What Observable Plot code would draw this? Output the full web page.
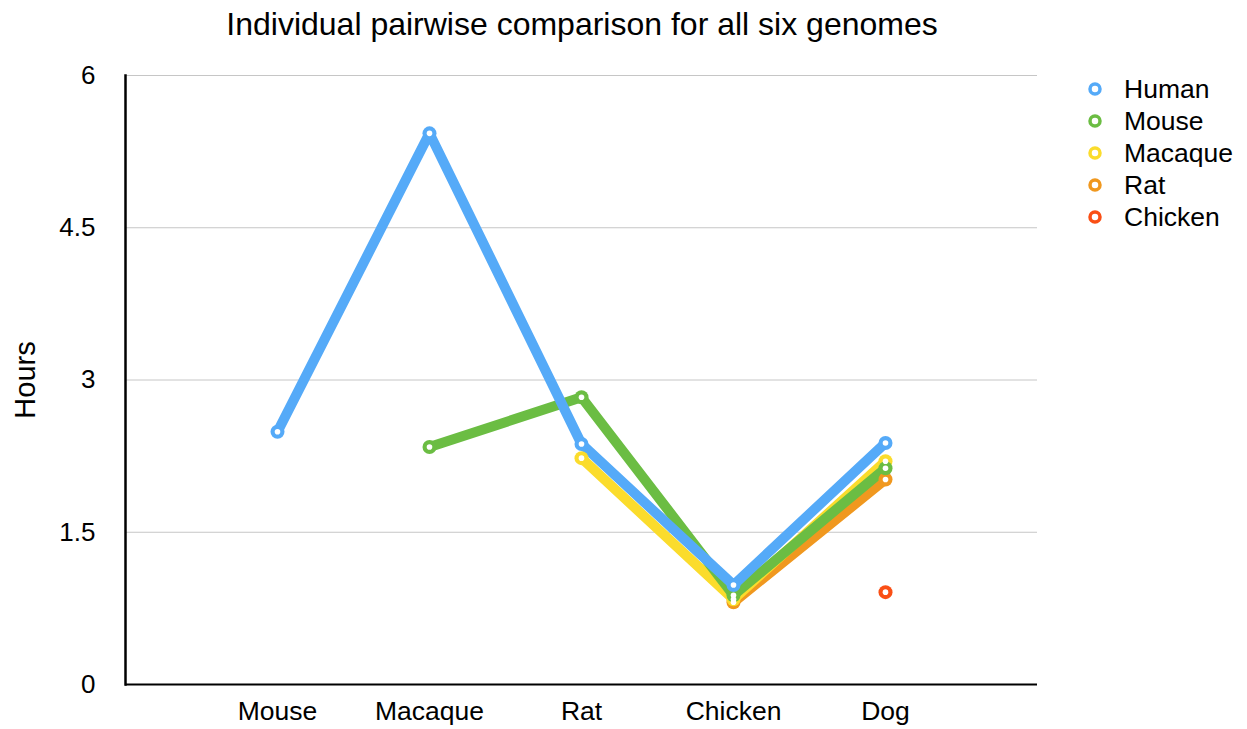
<!DOCTYPE html>
<html>
<head>
<meta charset="utf-8">
<script src="https://cdn.jsdelivr.net/npm/d3@7"></script>
<script src="https://cdn.jsdelivr.net/npm/@observablehq/plot@0.6"></script>
<style>
  html, body { margin: 0; padding: 0; background: #fff; }
  body { width: 1247px; height: 729px; position: relative; overflow: hidden; font-family: "Liberation Sans", Arial, Helvetica, sans-serif; }
  #chart { position: absolute; left: 0; top: 0; z-index: 1; }
  #title { position: absolute; left: 0; top: 6px; width: 1164px; text-align: center; font-size: 32px; color: #000; z-index: 2; }
  #legend { position: absolute; left: 1085px; top: 73px; z-index: 2; }
  .item { display: flex; align-items: center; height: 32px; font-size: 26.5px; color: #000; }
  .item svg { margin-right: 19px; }
</style>
</head>
<body>
<div id="chart"></div>
<div id="title">Individual pairwise comparison for all six genomes</div>
<div id="legend"></div>
<script>
// Categories on the x axis (compared genome)
const targets = ["Mouse", "Macaque", "Rat", "Chicken", "Dog"];
// Series names (reference genome)
const seriesNames = ["Human", "Mouse", "Macaque", "Rat", "Chicken"];
const seriesColors = ["#55aaf8", "#6bbd43", "#fbdc2c", "#f0981f", "#fa4f15"];
// Values in hours, null = no comparison
const human   = [2.49, 5.43, 2.37, 0.98, 2.38];
const mouse   = [null, 2.34, 2.83, 0.88, 2.13];
const macaque = [null, null, 2.23, 0.84, 2.20];
const rat     = [null, null, null, 0.81, 2.02];
const chicken = [null, null, null, null, 0.91];
const yTicks = [0, 1.5, 3, 4.5, 6];

const seriesValues = [human, mouse, macaque, rat, chicken];
const data = [];
seriesNames.forEach((s, si) => {
  seriesValues[si].forEach((v, i) => {
    if (v != null) data.push({series: s, target: targets[i], hours: v, order: si});
  });
});
// draw Human last (on top)
data.sort((a, b) => b.order - a.order);

const chart = Plot.plot({
  width: 1247,
  height: 729,
  marginLeft: 125,
  marginRight: 210,
  marginTop: 75,
  marginBottom: 45,
  style: {fontFamily: "'Liberation Sans', Arial, Helvetica, sans-serif", fontSize: "26px", color: "#000", background: "transparent"},
  x: {type: "point", domain: targets, padding: 1, label: null},
  y: {domain: [0, 6], label: null},
  color: {domain: seriesNames, range: seriesColors},
  marks: [
    Plot.ruleY(yTicks.filter(d => d > 0), {stroke: "#c6c6c6", strokeWidth: 1}),
    Plot.axisX({tickSize: 0, tickPadding: 17, fontSize: 26.5, label: null}),
    Plot.axisY({ticks: yTicks, tickFormat: d => String(d), tickSize: 0, tickPadding: 30, fontSize: 26, label: null}),
    Plot.ruleY([0], {stroke: "#000", strokeWidth: 2}),
    Plot.frame({anchor: "left", stroke: "#000", strokeWidth: 2.5}),
    Plot.text(["Hours"], {frameAnchor: "left", dx: -100, rotate: -90, textAnchor: "middle", fontSize: 29, fill: "#000"}),
    Plot.line(data, {x: "target", y: "hours", z: "series", stroke: "series", strokeWidth: 10, strokeLinejoin: "miter", strokeLinecap: "round", sort: null}),
    Plot.dot(data, {x: "target", y: "hours", fill: "series", r: 7, stroke: null}),
    Plot.dot(data, {x: "target", y: "hours", fill: "#fff", r: 2.8, stroke: null})
  ]
});
document.getElementById("chart").appendChild(chart);

// Legend
const legend = document.getElementById("legend");
seriesNames.forEach((s, i) => {
  const div = document.createElement("div");
  div.className = "item";
  div.innerHTML = `<svg width="20" height="20"><circle cx="10" cy="10" r="5" fill="none" stroke="${seriesColors[i]}" stroke-width="3.5"/></svg><span>${s}</span>`;
  legend.appendChild(div);
});
</script>
</body>
</html>
